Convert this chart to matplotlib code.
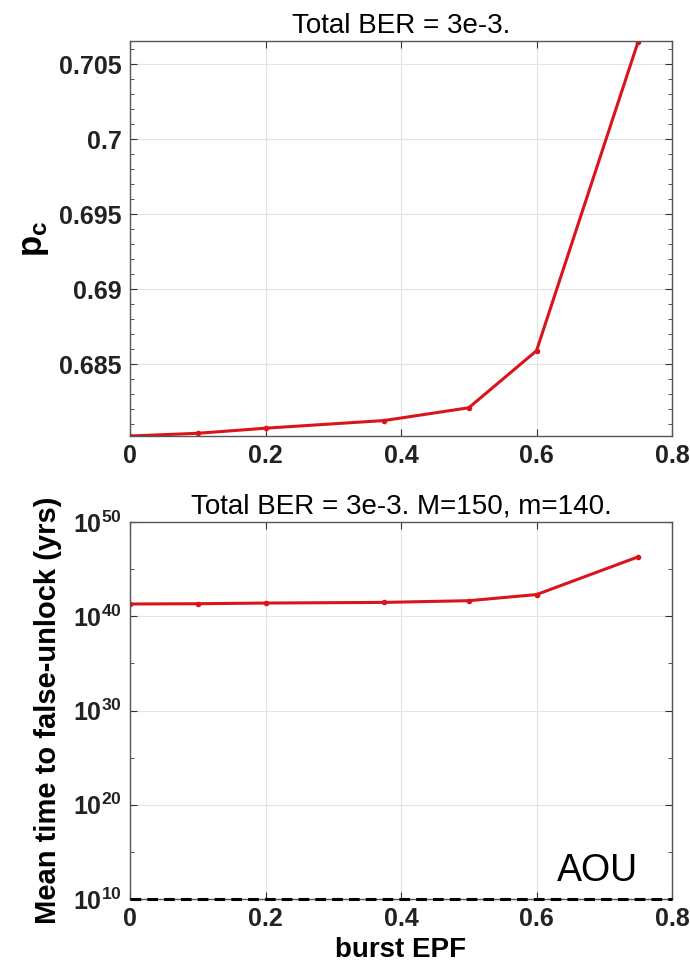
import matplotlib

matplotlib.use("Agg")

import matplotlib.pyplot as plt
from matplotlib.ticker import MultipleLocator, NullFormatter

burst_epf = [0.0, 0.1, 0.2, 0.375, 0.5, 0.6, 0.75]
pc_values = [0.68022, 0.68040, 0.68074, 0.68125, 0.68210, 0.68590, 0.70650]
mttfu_exp = [41.3, 41.33, 41.4, 41.47, 41.65, 42.3, 46.3]
aou_level = 1e10

plt.rcParams["font.family"] = ["Liberation Sans", "DejaVu Sans"]
plt.rcParams["mathtext.fontset"] = "custom"
plt.rcParams["mathtext.rm"] = "Liberation Sans"
plt.rcParams["mathtext.bf"] = "Liberation Sans:bold"
plt.rcParams["mathtext.it"] = "Liberation Sans:italic"

red = "#d9141a"
fig = plt.figure(figsize=(6.9, 9.71), dpi=100)
ax1 = fig.add_axes([130 / 690, 1 - 436 / 971, 542 / 690, 395 / 971])
ax2 = fig.add_axes([130 / 690, 1 - 899 / 971, 542 / 690, 377 / 971])

ax1.plot(burst_epf, pc_values, color=red, linewidth=2.2, marker="o", markersize=3)
ax1.set_xlim(0, 0.8)
ax1.set_ylim(0.68022, 0.70654)
ax1.set_yticks([0.685, 0.69, 0.695, 0.7, 0.705])
ax1.set_yticklabels(["0.685", "0.69", "0.695", "0.7", "0.705"])
ax1.yaxis.set_minor_locator(MultipleLocator(0.001))
ax1.set_xticks([0, 0.2, 0.4, 0.6, 0.8])
ax1.set_xticklabels(["0", "0.2", "0.4", "0.6", "0.8"])
ax1.set_title("Total BER = 3e-3.", fontsize=20, pad=6)
ax1.set_ylabel(r"$\mathbf{p_c}$", fontsize=25, labelpad=6)

yvals = [10 ** e for e in mttfu_exp]
ax2.plot(burst_epf, yvals, color=red, linewidth=2.2, marker="o", markersize=3)
ax2.axhline(aou_level, color="black", linestyle="--", linewidth=2.2, dashes=(3.5, 2),
            zorder=5, clip_on=False)
ax2.set_yscale("log")
ax2.set_xlim(0, 0.8)
ax2.set_ylim(1e10, 1e50)
ax2.set_yticks([1e10, 1e20, 1e30, 1e40, 1e50])
ax2.set_yticklabels([r"$\mathbf{10^{%d}}$" % e for e in (10, 20, 30, 40, 50)])
ax2.set_yticks([1e15, 1e25, 1e35, 1e45], minor=True)
ax2.yaxis.set_minor_formatter(NullFormatter())
ax2.set_xticks([0, 0.2, 0.4, 0.6, 0.8])
ax2.set_xticklabels(["0", "0.2", "0.4", "0.6", "0.8"])
ax2.set_title("Total BER = 3e-3. M=150, m=140.", fontsize=20, pad=6)
ax2.set_ylabel("Mean time to false-unlock (yrs)", fontsize=21, fontweight="bold", labelpad=8)
ax2.set_xlabel("burst EPF", fontsize=20, fontweight="bold", labelpad=4)
ax2.text(0.69, 10 ** 13.0, "AOU", fontsize=27, ha="center", va="center")

for ax in (ax1, ax2):
    ax.grid(True, which="major", color="#e3e3e3", linewidth=0.8)
    ax.set_axisbelow(True)
    ax.tick_params(which="both", direction="in", top=True, right=True, color="#333333")
    ax.tick_params(which="major", length=5, labelsize=18, pad=6)
    ax.tick_params(which="minor", length=3)
    for lbl in ax.get_xticklabels() + ax.get_yticklabels():
        lbl.set_fontweight("bold")
        lbl.set_color("#222222")
    for s in ax.spines.values():
        s.set_color("#555555")
        s.set_linewidth(1.0)

fig.savefig("out.png", dpi=100)
